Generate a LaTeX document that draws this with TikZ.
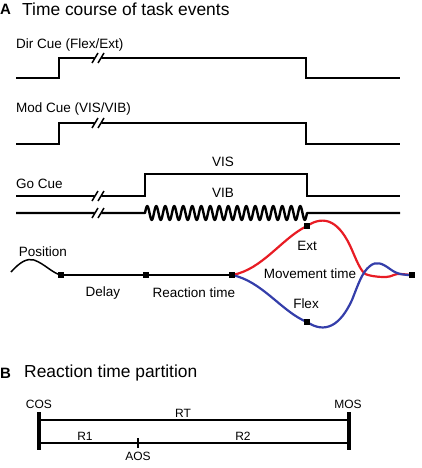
\documentclass[tikz,border=0pt]{standalone}
\usepackage{fontspec}
\setmainfont{Liberation Sans}
\usetikzlibrary{calc}
\definecolor{traceRed}{RGB}{232,28,36}
\definecolor{traceBlue}{RGB}{52,62,170}
\newcommand{\BreakMark}[2]{%
  \fill[white] ($(#1,#2)+(-6,4)$) -- ($(#1,#2)+(1,4)$) -- ($(#1,#2)+(6,-4)$) -- ($(#1,#2)+(-1,-4)$) -- cycle;
  \draw[line width=1.5pt] ($(#1,#2)+(-6,5)$) -- ($(#1,#2)+(0,-5)$);
  \draw[line width=1.5pt] ($(#1,#2)+(0,5)$) -- ($(#1,#2)+(6,-5)$);}
\tikzset{
  sig/.style={line width=2.7pt, line join=miter},
  lbl/.style={inner sep=0pt, font=\fontsize{13.5}{16}\selectfont},
  sml/.style={inner sep=0pt, font=\fontsize{12}{14}\selectfont},
  ttl/.style={inner sep=0pt, anchor=west, font=\fontsize{17.4}{20}\selectfont},
  sq/.style={fill=black, inner sep=0pt, minimum size=6.5pt}
}
\begin{document}
\begin{tikzpicture}[x=1pt,y=-1pt]
\useasboundingbox (0,0) rectangle (421,468);
% panel A
\node[ttl, font=\fontsize{15}{18}\selectfont\bfseries] (tagA) at (0,9) {A};
\node[ttl] (titleA) at (22,9) {Time course of task events};

% direction cue
\node[lbl, anchor=west] (dirL) at (16,45) {Dir Cue (Flex/Ext)};
\draw[sig] (16,78) -- (59,78) -- (59,58) -- (306,58) -- (306,78) -- (400,78);
\BreakMark{98}{58}

% modality cue
\node[lbl, anchor=west] (modL) at (16,109) {Mod Cue (VIS/VIB)};
\draw[sig] (16,144) -- (59,144) -- (59,123) -- (306,123) -- (306,144) -- (400,144);
\BreakMark{98}{123}

% go cue
\node[lbl, anchor=west] (goL) at (16,184) {Go Cue};
\node[lbl] (visL) at (223,162) {VIS};
\node[lbl] (vibL) at (223,193) {VIB};
\draw[sig] (16,196) -- (145,196) -- (145,174) -- (307,174) -- (307,196) -- (400,196);
\BreakMark{98}{196}
\draw[sig, line width=2.4pt, line join=round] (16,213) -- (145,213)
  -- plot[domain=0:18, samples=217, smooth] ({145+9*\x},{213-7*sin(360*\x)})
  -- (400,213);
\BreakMark{98}{213}

% position trace
\node[lbl] (posL) at (43,252) {Position};
\node[sq] (dly) at (61,275) {};
\node[sq] (rtm) at (146,275) {};
\node[sq] (mvs) at (232,275) {};
\node[sq] (extP) at (307,226) {};
\node[sq] (flxP) at (307,322) {};
\node[sq] (endP) at (412,275) {};
\draw[line width=1.5pt] (11,272) .. controls (20,262) and (27,258) .. (34,260)
  .. controls (45,264) and (52,273) .. (dly.center);
\draw[sig] (dly) -- (rtm) -- (mvs);
\draw[traceRed, line width=2.2pt] (mvs.center) .. controls (262,270) and (282,238) .. (extP.center)
  .. controls (325,214) and (340,222) .. (352,250)
  .. controls (358,264) and (362,274) .. (368,275)
  .. controls (376,277) and (381,277) .. (386,277)
  .. controls (392,277) and (395,273) .. (401,274) -- (endP.center);
\draw[traceBlue, line width=2.2pt] (mvs.center) .. controls (262,281) and (282,312) .. (flxP.center)
  .. controls (325,334) and (340,326) .. (352,300)
  .. controls (358,285) and (362,272) .. (370,266)
  .. controls (376,261) and (382,263) .. (390,269)
  .. controls (398,275) and (405,275) .. (endP.center);
\node[sq] at (extP) {};
\node[sq] at (flxP) {};
\node[sq] at (endP) {};
\node[sq] at (mvs) {};
\node[lbl] (dlyL) at (103,293) {Delay};
\node[lbl] (rtL) at (194,293) {Reaction time};
\node[lbl] (extL) at (307,246) {Ext};
\node[lbl] (mvL) at (310,274) {Movement time};
\node[lbl] (flxL) at (306,304) {Flex};

% panel B
\node[ttl, font=\fontsize{15}{18}\selectfont\bfseries] (tagB) at (0,373) {B};
\node[ttl] (titleB) at (24,373) {Reaction time partition};
\coordinate (cosT) at (39,412);
\coordinate (cosB) at (39,450);
\coordinate (mosT) at (349,412);
\coordinate (mosB) at (349,450);
\coordinate (aosT) at (138,438);
\coordinate (aosB) at (138,448);
\draw[line width=3.2pt] (cosT) -- (cosB);
\draw[line width=3.2pt] (mosT) -- (mosB);
\draw[line width=2.3pt] (39,420) -- (349,420);
\draw[line width=2.3pt] (39,443) -- (349,443);
\draw[line width=2.3pt] (aosT) -- (aosB);
\node[sml] (cosL) at (39,404) {COS};
\node[sml] (mosL) at (348,404) {MOS};
\node[sml] (rtB) at (183,413) {RT};
\node[sml] (r1L) at (85,436) {R1};
\node[sml] (r2L) at (243,436) {R2};
\node[sml] (aosL) at (138,456) {AOS};
\end{tikzpicture}
\end{document}
